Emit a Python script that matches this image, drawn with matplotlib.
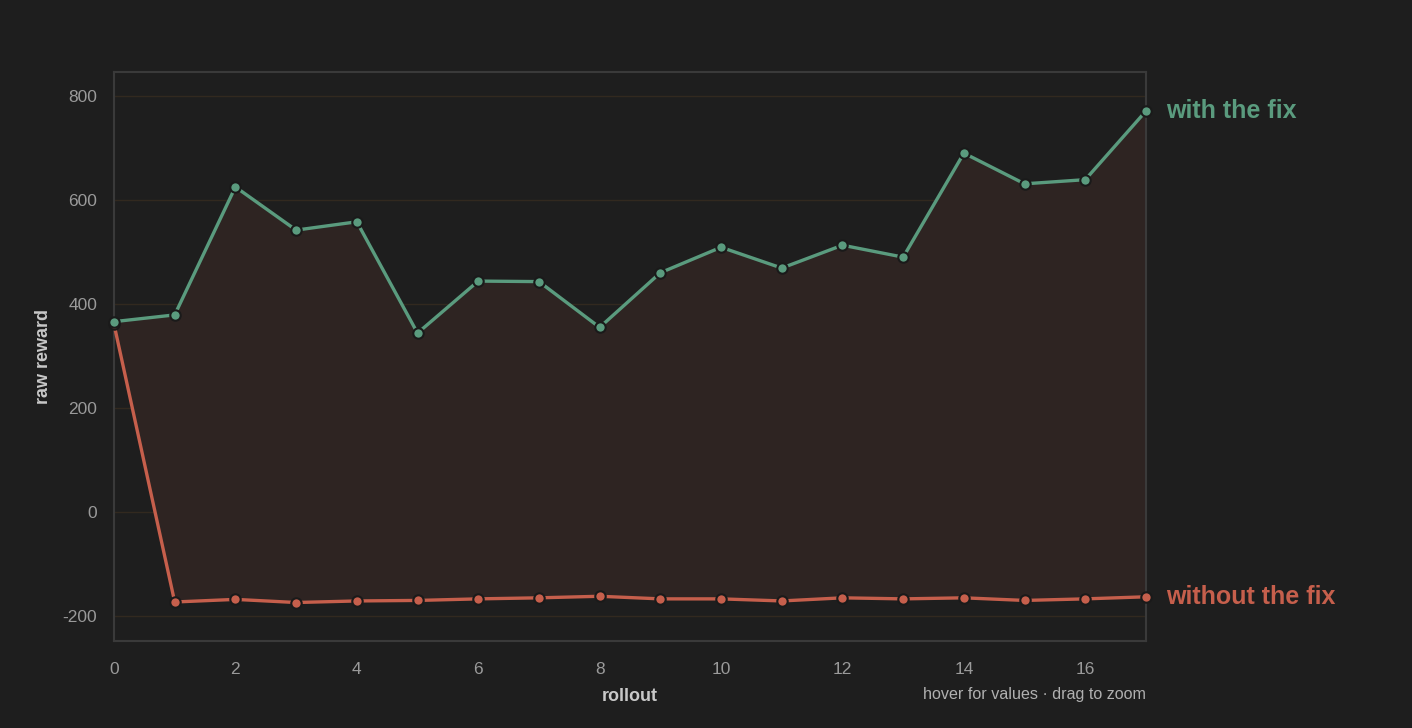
import matplotlib
matplotlib.use("Agg")
import matplotlib.pyplot as plt

rollout = list(range(18))
with_fix = [366, 379, 625, 542, 558, 344, 444, 443, 355, 460, 509, 469, 513, 490, 690, 631, 639, 771]
without_fix = [361, -173, -168, -174, -171, -170, -167, -165, -162, -167, -167, -171, -165, -167, -165, -170, -167, -163]
yticks = [-200, 0, 200, 400, 600, 800]
xticks = [0, 2, 4, 6, 8, 10, 12, 14, 16]

BG = "#1e1e1e"
GREEN = "#5a9b7e"
RED = "#c65f4c"
FILL = "#2e2422"
GRID = "#32291f"
SPINE = "#3a3a3a"
TICK = "#9a9a9a"
LABEL = "#c8c8c8"

plt.rcParams['font.family'] = ['Liberation Sans', 'DejaVu Sans']
plt.rcParams['axes.unicode_minus'] = False

fig = plt.figure(figsize=(14.12, 7.28), dpi=100, facecolor=BG)
ax = fig.add_axes([114/1412, (728-641)/728, 1032/1412, 569/728], facecolor=BG)

ax.fill_between(rollout, without_fix, with_fix, color=FILL, linewidth=0, zorder=1)
ax.plot(rollout, without_fix, color=RED, lw=2.4, marker='o', ms=7.5, mfc=RED,
        mec="#1a1a1a", mew=1.5, zorder=3, clip_on=False)
ax.plot(rollout, with_fix, color=GREEN, lw=2.4, marker='o', ms=7.5, mfc=GREEN,
        mec="#1a1a1a", mew=1.5, zorder=4, clip_on=False)

ax.set_xlim(0, 17)
ax.set_ylim(-248, 846)
ax.set_xticks(xticks)
ax.set_yticks(yticks)
ax.tick_params(axis='both', length=0, colors=TICK, labelsize=12.5)
ax.tick_params(axis='x', pad=15)
ax.tick_params(axis='y', pad=12)
for y in yticks:
    ax.axhline(y, color=GRID, lw=1, zorder=0)
for s in ax.spines.values():
    s.set_color(SPINE)
    s.set_linewidth(1.5)

ax.set_xlabel("rollout", color=LABEL, fontsize=13, fontweight='bold', labelpad=8)
ax.set_ylabel("raw reward", color=LABEL, fontsize=13, fontweight='bold', labelpad=8)

ax.annotate("with the fix", xy=(rollout[-1], with_fix[-1]), xytext=(20, 0),
            textcoords='offset pixels', color=GREEN, fontsize=18, fontweight='bold',
            va='center', ha='left', annotation_clip=False)
ax.annotate("without the fix", xy=(rollout[-1], without_fix[-1]), xytext=(20, 0),
            textcoords='offset pixels', color=RED, fontsize=18, fontweight='bold',
            va='center', ha='left', annotation_clip=False)

fig.text(1146/1412, 1 - 694/728, "hover for values · drag to zoom", color="#b0b0b0",
         fontsize=11.6, ha='right', va='center')

fig.savefig("out.png", dpi=100, facecolor=BG)
